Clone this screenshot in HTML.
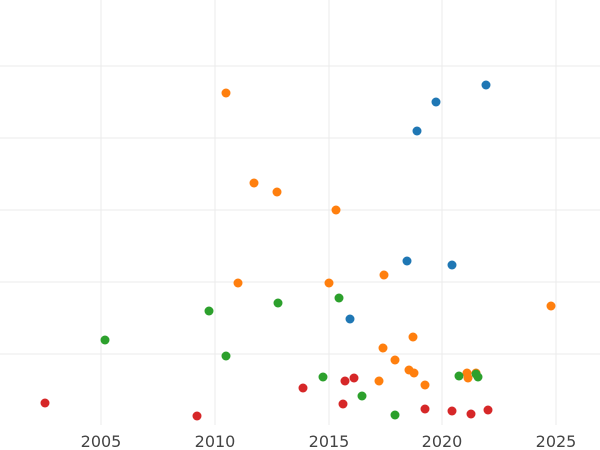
<!DOCTYPE html>
<html><head><meta charset="utf-8"><style>body{margin:0;background:#fff}svg{display:block}</style></head><body>
<svg width="600" height="450" xmlns="http://www.w3.org/2000/svg">
<g stroke="#ebebeb" stroke-width="1">
<line x1="0" y1="66" x2="600" y2="66"/><line x1="0" y1="138" x2="600" y2="138"/><line x1="0" y1="210" x2="600" y2="210"/><line x1="0" y1="282" x2="600" y2="282"/><line x1="0" y1="354" x2="600" y2="354"/>
<line x1="101" y1="0" x2="101" y2="425"/><line x1="215" y1="0" x2="215" y2="425"/><line x1="329" y1="0" x2="329" y2="425"/><line x1="442" y1="0" x2="442" y2="425"/><line x1="556" y1="0" x2="556" y2="425"/>
</g>
<g font-family="DejaVu Sans, sans-serif" font-size="16" fill="#444" text-anchor="middle">
<text x="101" y="447">2005</text><text x="215" y="447">2010</text><text x="329" y="447">2015</text><text x="442" y="447">2020</text><text x="556" y="447">2025</text>
</g>
<g fill="#1f77b4"><circle cx="486" cy="85" r="4.5"/><circle cx="436" cy="102" r="4.5"/><circle cx="417" cy="131" r="4.5"/><circle cx="407" cy="261" r="4.5"/><circle cx="452" cy="265" r="4.5"/><circle cx="350" cy="319" r="4.5"/></g>
<g fill="#ff7f0e"><circle cx="226" cy="93" r="4.5"/><circle cx="254" cy="183" r="4.5"/><circle cx="277" cy="192" r="4.5"/><circle cx="336" cy="210" r="4.5"/><circle cx="384" cy="275" r="4.5"/><circle cx="238" cy="283" r="4.5"/><circle cx="329" cy="283" r="4.5"/><circle cx="551" cy="306" r="4.5"/><circle cx="413" cy="337" r="4.5"/><circle cx="383" cy="348" r="4.5"/><circle cx="395" cy="360" r="4.5"/><circle cx="409" cy="370" r="4.5"/><circle cx="414" cy="373" r="4.5"/><circle cx="379" cy="381" r="4.5"/><circle cx="425" cy="385" r="4.5"/><circle cx="467" cy="373" r="4.5"/><circle cx="476" cy="373" r="4.5"/><circle cx="468" cy="378" r="4.5"/></g>
<g fill="#2ca02c"><circle cx="209" cy="311" r="4.5"/><circle cx="278" cy="303" r="4.5"/><circle cx="339" cy="298" r="4.5"/><circle cx="105" cy="340" r="4.5"/><circle cx="226" cy="356" r="4.5"/><circle cx="323" cy="377" r="4.5"/><circle cx="362" cy="396" r="4.5"/><circle cx="395" cy="415" r="4.5"/><circle cx="459" cy="376" r="4.5"/><circle cx="478" cy="377" r="4.5"/><circle cx="476" cy="374" r="4.5"/></g>
<g fill="#d62728"><circle cx="45" cy="403" r="4.5"/><circle cx="197" cy="416" r="4.5"/><circle cx="303" cy="388" r="4.5"/><circle cx="345" cy="381" r="4.5"/><circle cx="354" cy="378" r="4.5"/><circle cx="343" cy="404" r="4.5"/><circle cx="425" cy="409" r="4.5"/><circle cx="452" cy="411" r="4.5"/><circle cx="471" cy="414" r="4.5"/><circle cx="488" cy="410" r="4.5"/></g>
</svg>
</body></html>
